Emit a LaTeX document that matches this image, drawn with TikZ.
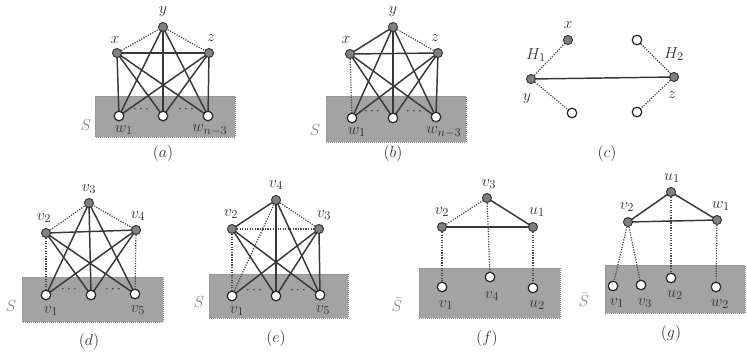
\documentclass[tikz,border=0pt]{standalone}
\begin{document}
\begin{tikzpicture}[x=0.75pt,y=-0.75pt,
  lab/.style={text=black!80,inner sep=0pt,font=\fontsize{13}{15}\selectfont},
  slab/.style={text=black!50,inner sep=0pt,font=\fontsize{13}{15}\selectfont},
  capt/.style={text=black!80,inner sep=0pt,font=\fontsize{13}{15}\selectfont},
  dts/.style={text=black!90,inner sep=0pt,font=\normalsize},
  fnode/.style={circle,fill=black!50,draw=black!80,line width=0.7pt,inner sep=0pt,minimum size=6.8pt},
  onode/.style={circle,fill=white,draw=black!85,line width=0.9pt,inner sep=0pt,minimum size=7.2pt},
  sol/.style={draw=black!78,line width=1.1pt},
  dtl/.style={draw=black!72,line width=0.9pt,densely dotted},
  sbox/.style={fill=black!36,draw=black!45,line width=0.5pt,densely dotted}]
\useasboundingbox (0,0) rectangle (747,355);

% ---------- boxes ----------
\draw[sbox] (95,96) rectangle (235,137);
\draw[sbox] (326,96) rectangle (466,142);
\draw[sbox] (22,277) rectangle (163,322);
\draw[sbox] (209,274) rectangle (348,318);
\draw[sbox] (419,268) rectangle (560,318);
\draw[sbox] (605,265) rectangle (745,313);

% ---------- (a) ----------
\coordinate (xa) at (117,53); \coordinate (ya) at (163,27); \coordinate (za) at (209,53);
\coordinate (wa1) at (119,116); \coordinate (wa2) at (163,116); \coordinate (wa3) at (208,116);
\draw[dtl] (xa) -- (ya) -- (za);
\draw[sol] (xa) -- (za);
\foreach \a in {xa,ya,za}{\foreach \b in {wa1,wa2,wa3}{\draw[sol] (\a) -- (\b);}}
\node[fnode] (nxa) at (xa) {}; \node[fnode] (nya) at (ya) {}; \node[fnode] (nza) at (za) {};
\node[onode] (nwa1) at (wa1) {}; \node[onode] (nwa2) at (wa2) {}; \node[onode] (nwa3) at (wa3) {};
\node[lab] (lxa) at (115,40) {$x$};
\node[lab] (lya) at (163,12) {$y$};
\node[lab] (lza) at (211,38) {$z$};
\node[slab] (lsa) at (86,125) {$S$};
\node[lab] (lwa1) at (124,130) {$w_1$};
\node[lab] (lwa3) at (210,130) {$w_{n-3}$};
\node[dts] (da1) at (141,110) {$\cdots$};
\node[dts] (da2) at (186,110) {$\cdots$};
\node[capt] (capa) at (163,153) {$(a)$};

% ---------- (b) ----------
\coordinate (xb) at (350,54); \coordinate (yb) at (393,27); \coordinate (zb) at (438,53);
\coordinate (wb1) at (352,118); \coordinate (wb2) at (393,118); \coordinate (wb3) at (436,117);
\draw[sol] (xb) -- (yb);
\draw[dtl] (yb) -- (zb);
\draw[sol] (xb) -- (zb);
\draw[dtl] (xb) -- (wb1);
\draw[sol] (xb) -- (wb2); \draw[sol] (xb) -- (wb3);
\foreach \a in {yb,zb}{\foreach \b in {wb1,wb2,wb3}{\draw[sol] (\a) -- (\b);}}
\node[fnode] (nxb) at (xb) {}; \node[fnode] (nyb) at (yb) {}; \node[fnode] (nzb) at (zb) {};
\node[onode] (nwb1) at (wb1) {}; \node[onode] (nwb2) at (wb2) {}; \node[onode] (nwb3) at (wb3) {};
\node[lab] (lxb) at (346,40) {$x$};
\node[lab] (lyb) at (393,12) {$y$};
\node[lab] (lzb) at (435,38) {$z$};
\node[slab] (lsb) at (315,130) {$S$};
\node[lab] (lwb1) at (357,132) {$w_1$};
\node[lab] (lwb3) at (444,132) {$w_{n-3}$};
\node[dts] (db1) at (372,112) {$\cdots$};
\node[dts] (db2) at (414,112) {$\cdots$};
\node[capt] (capb) at (393,153) {$(b)$};

% ---------- (c) ----------
\coordinate (xc) at (568,40); \coordinate (yc) at (531,79); \coordinate (c1) at (572,113);
\coordinate (c2) at (637,40); \coordinate (zc) at (674,77); \coordinate (c3) at (637,112);
\draw[sol] (yc) -- (zc);
\draw[dtl] (yc) -- (xc); \draw[dtl] (yc) -- (c1);
\draw[dtl] (zc) -- (c2); \draw[dtl] (zc) -- (c3);
\node[fnode] (nxc) at (xc) {}; \node[fnode] (nyc) at (yc) {}; \node[fnode] (nzc) at (zc) {};
\node[onode] (nc1) at (c1) {}; \node[onode] (nc2) at (c2) {}; \node[onode] (nc3) at (c3) {};
\node[lab] (lxc) at (568,25) {$x$};
\node[lab] (lh1) at (536,55) {$H_1$};
\node[lab] (lyc) at (527,99) {$y$};
\node[lab] (lh2) at (674,54) {$H_2$};
\node[lab] (lzc) at (672,95) {$z$};
\node[capt] (capc) at (607,153) {$(c)$};

% ---------- (d) ----------
\coordinate (d3) at (89,203); \coordinate (d2) at (46,233); \coordinate (d4) at (136,230);
\coordinate (d1) at (46,295); \coordinate (dm) at (91,295); \coordinate (d5) at (135,294);
\draw[dtl] (d2) -- (d3) -- (d4);
\draw[sol] (d2) -- (d4);
\draw[dtl] (d2) -- (d1); \draw[dtl] (d4) -- (d5);
\draw[sol] (d2) -- (dm); \draw[sol] (d2) -- (d5);
\draw[sol] (d3) -- (d1); \draw[sol] (d3) -- (dm); \draw[sol] (d3) -- (d5);
\draw[sol] (d4) -- (d1); \draw[sol] (d4) -- (dm);
\node[fnode] (nd2) at (d2) {}; \node[fnode] (nd3) at (d3) {}; \node[fnode] (nd4) at (d4) {};
\node[onode] (nd1) at (d1) {}; \node[onode] (ndm) at (dm) {}; \node[onode] (nd5) at (d5) {};
\node[lab] (ld3) at (89,189) {$v_3$};
\node[lab] (ld2) at (44,218) {$v_2$};
\node[lab] (ld4) at (138,216) {$v_4$};
\node[slab] (lsd) at (11,306) {$S$};
\node[lab] (ld1) at (51,311) {$v_1$};
\node[lab] (ld5) at (138,310) {$v_5$};
\node[dts] (dd1) at (69,290) {$\cdots$};
\node[dts] (dd2) at (113,290) {$\cdots$};
\node[capt] (capd) at (89,341) {$(d)$};

% ---------- (e) ----------
\coordinate (e4) at (276,200); \coordinate (e2) at (232,229); \coordinate (e3) at (319,229);
\coordinate (e1) at (232,296); \coordinate (em) at (276,296); \coordinate (e5) at (320,295);
\draw[sol] (e2) -- (e4);
\draw[dtl] (e4) -- (e3); \draw[dtl] (e2) -- (e3);
\draw[dtl] (e2) -- (e1); \draw[dtl] (e4) -- (e1);
\draw[sol] (e4) -- (em); \draw[sol] (e4) -- (e5);
\draw[sol] (e2) -- (em); \draw[sol] (e2) -- (e5);
\draw[sol] (e3) -- (e1); \draw[sol] (e3) -- (em); \draw[sol] (e3) -- (e5);
\node[fnode] (ne2) at (e2) {}; \node[fnode] (ne3) at (e3) {}; \node[fnode] (ne4) at (e4) {};
\node[onode] (ne1) at (e1) {}; \node[onode] (nem) at (em) {}; \node[onode] (ne5) at (e5) {};
\node[lab] (le4) at (276,185) {$v_4$};
\node[lab] (le2) at (231,214) {$v_2$};
\node[lab] (le3) at (324,215) {$v_3$};
\node[slab] (lse) at (199,302) {$S$};
\node[lab] (le1) at (237,311) {$v_1$};
\node[lab] (le5) at (323,310) {$v_5$};
\node[dts] (de1) at (254,291) {$\cdots$};
\node[dts] (de2) at (298,291) {$\cdots$};
\node[capt] (cape) at (276,338) {$(e)$};

% ---------- (f) ----------
\coordinate (f3) at (487,198); \coordinate (f2) at (442,227); \coordinate (fu1) at (533,227);
\coordinate (f1) at (442,287); \coordinate (f4) at (490,277); \coordinate (fu2) at (533,288);
\draw[dtl] (f2) -- (f3);
\draw[sol] (f3) -- (fu1); \draw[sol] (f2) -- (fu1);
\draw[dtl] (f2) -- (f1); \draw[dtl] (f3) -- (f4); \draw[dtl] (fu1) -- (fu2);
\node[fnode] (nf2) at (f2) {}; \node[fnode] (nf3) at (f3) {}; \node[fnode] (nfu1) at (fu1) {};
\node[onode] (nf1) at (f1) {}; \node[onode] (nf4) at (f4) {}; \node[onode] (nfu2) at (fu2) {};
\node[lab] (lf3) at (489,184) {$v_3$};
\node[lab] (lf2) at (442,212) {$v_2$};
\node[lab] (lfu1) at (537,212) {$u_1$};
\node[slab] (lsf) at (397,305) {$\bar{S}$};
\node[lab] (lf1) at (446,305) {$v_1$};
\node[lab] (lf4) at (492,296) {$v_4$};
\node[lab] (lfu2) at (537,305) {$u_2$};
\node[capt] (capf) at (487,338) {$(f)$};

% ---------- (g) ----------
\coordinate (gu1) at (671,192); \coordinate (gv2) at (628,222); \coordinate (gw1) at (717,220);
\coordinate (gv1) at (613,286); \coordinate (gv3) at (641,285); \coordinate (gu2) at (671,278); \coordinate (gw2) at (716,287);
\draw[sol] (gv2) -- (gu1) -- (gw1);
\draw[sol] (gv2) -- (gw1);
\draw[dtl] (gv2) -- (gv1); \draw[dtl] (gv2) -- (gv3);
\draw[dtl] (gu1) -- (gu2); \draw[dtl] (gw1) -- (gw2);
\node[fnode] (ngu1) at (gu1) {}; \node[fnode] (ngv2) at (gv2) {}; \node[fnode] (ngw1) at (gw1) {};
\node[onode] (ngv1) at (gv1) {}; \node[onode] (ngv3) at (gv3) {}; \node[onode] (ngu2) at (gu2) {}; \node[onode] (ngw2) at (gw2) {};
\node[lab] (lgu1) at (672,178) {$u_1$};
\node[lab] (lgv2) at (627,207) {$v_2$};
\node[lab] (lgw1) at (721,206) {$w_1$};
\node[slab] (lsg) at (584,300) {$\bar{S}$};
\node[lab] (lgv1) at (617,303) {$v_1$};
\node[lab] (lgv3) at (645,303) {$v_3$};
\node[lab] (lgu2) at (675,295) {$u_2$};
\node[lab] (lgw2) at (720,304) {$w_2$};
\node[capt] (capg) at (671,333) {$(g)$};
\end{tikzpicture}
\end{document}
